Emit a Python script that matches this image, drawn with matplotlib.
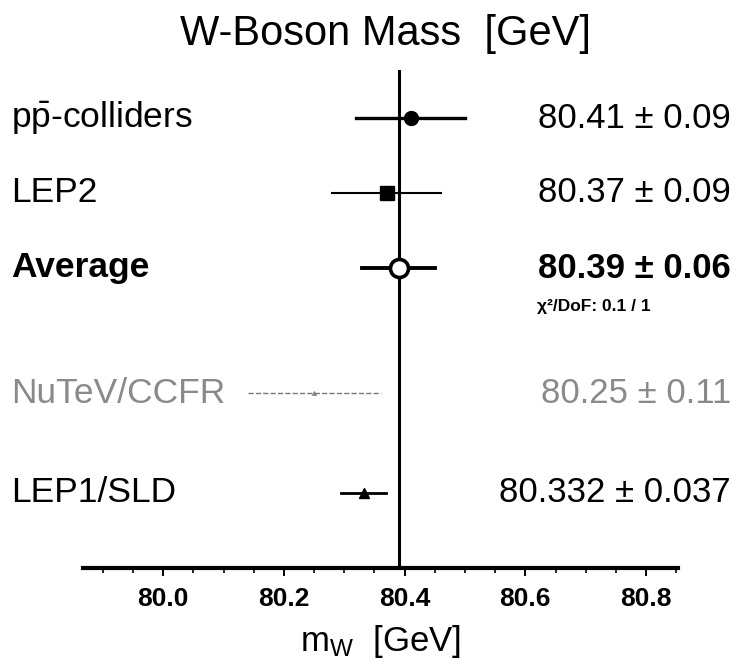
import matplotlib
matplotlib.use("Agg")
import matplotlib.pyplot as plt
from matplotlib.ticker import MultipleLocator
from matplotlib.transforms import blended_transform_factory

plt.rcParams['font.family'] = ['Liberation Sans', 'DejaVu Sans']
plt.rcParams['mathtext.fontset'] = 'custom'
plt.rcParams['mathtext.rm'] = 'Liberation Sans'
plt.rcParams['mathtext.it'] = 'Liberation Sans'
plt.rcParams['mathtext.bf'] = 'Liberation Sans:bold'

# measurements of the W mass
labels = [r'p$\bar{\mathrm{p}}$-colliders', 'LEP2', 'Average', 'NuTeV/CCFR', 'LEP1/SLD']
values = [80.41, 80.37, 80.39, 80.25, 80.332]
errors = [0.09, 0.09, 0.06, 0.11, 0.037]
value_text = ['80.41 ± 0.09', '80.37 ± 0.09', '80.39 ± 0.06',
              '80.25 ± 0.11', '80.332 ± 0.037']
chi2_text = 'χ²/DoF: 0.1 / 1'
average = 80.39
tick_vals = [80.0, 80.2, 80.4, 80.6, 80.8]
tick_labels = ['80.0', '80.2', '80.4', '80.6', '80.8']

# row layout (top to bottom)
rows = [0, 1, 2, 3.667, 5]
markers = ['o', 's', 'o', '^', '^']
msizes = [10, 10, 13, 3, 7]
mfaces = ['black', 'black', 'white', '#888888', 'black']
mew = [1, 1, 2.6, 0.5, 1]
elw = [2.4, 1.5, 2.8, 1.0, 2.0]
colors = ['black', 'black', 'black', '#7a7a7a', 'black']
text_colors = ['black', 'black', 'black', '#8a8a8a', 'black']
bold = [False, False, True, False, False]

fig = plt.figure(figsize=(7.4, 6.67), dpi=100)
ax = fig.add_axes([83 / 740, (667 - 568) / 667, (678 - 83) / 740, (568 - 70) / 667])

ax.set_xlim(79.867, 80.853)
ax.set_ylim(6.0, -0.64)

ax.axvline(average, color='black', lw=2.2, zorder=1)

for i in range(len(values)):
    ls = '--' if i == 3 else '-'
    ax.plot([values[i] - errors[i], values[i] + errors[i]], [rows[i], rows[i]],
            color=colors[i], lw=elw[i], ls=ls, zorder=2)
    ax.plot(values[i], rows[i], marker=markers[i], ms=msizes[i],
            mfc=mfaces[i], mec=colors[i], mew=mew[i], zorder=3)

tr = blended_transform_factory(fig.transFigure, ax.transData)
for i in range(len(values)):
    w = 'bold' if bold[i] else 'normal'
    ax.text(11 / 740, rows[i], labels[i], transform=tr, ha='left', va='center',
            fontsize=25.5, color=text_colors[i], fontweight=w)
    ax.text(731 / 740, rows[i], value_text[i], transform=tr, ha='right', va='center',
            fontsize=25, color=text_colors[i], fontweight=w)
ax.text(537 / 740, rows[2] + 0.52, chi2_text, transform=tr, ha='left', va='center',
        fontsize=12.5, fontweight='bold')

for s in ['top', 'left', 'right']:
    ax.spines[s].set_visible(False)
ax.spines['bottom'].set_linewidth(3)
ax.set_yticks([])
ax.xaxis.set_minor_locator(MultipleLocator(0.05))
ax.tick_params(axis='x', which='major', length=6, width=1.4, direction='out', labelsize=19, pad=8)
ax.tick_params(axis='x', which='minor', length=3.5, width=1.2, direction='out')
ax.set_xticks(tick_vals)
ax.set_xticklabels(tick_labels, fontweight='bold')

ax.set_xlabel(r'm$_\mathrm{W}$  [GeV]', fontsize=25, labelpad=8)
fig.text(385 / 740, 1 - 34 / 667, 'W-Boson Mass  [GeV]', ha='center', va='center', fontsize=30)

fig.savefig('out.png', dpi=100)
